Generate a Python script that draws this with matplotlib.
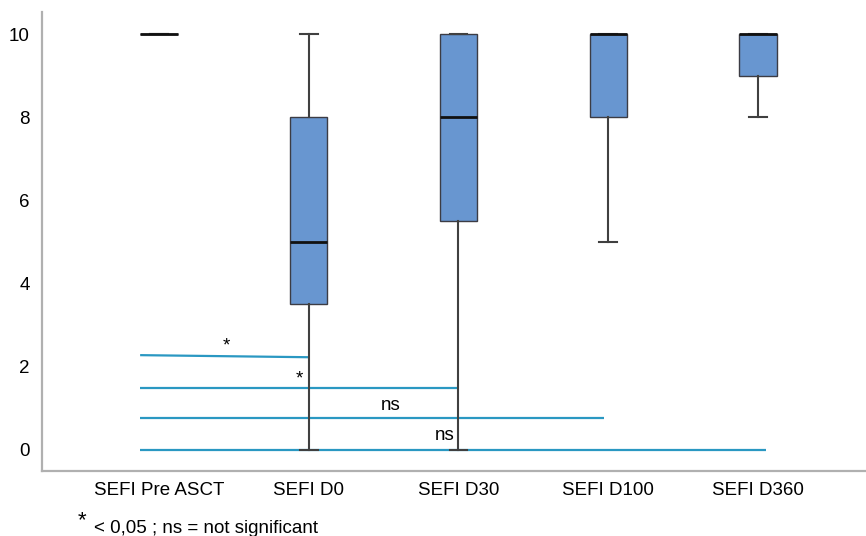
import matplotlib
matplotlib.use("Agg")
import matplotlib.pyplot as plt

plt.rcParams['font.family'] = ['Liberation Sans', 'DejaVu Sans']

# SEFI scores per time point
groups = ['SEFI Pre ASCT', 'SEFI D0', 'SEFI D30', 'SEFI D100', 'SEFI D360']
whislo = [10, 0, 0, 5, 8]
q1 = [10, 3.5, 5.5, 8, 9]
med = [10, 5, 8, 10, 10]
q3 = [10, 8, 10, 10, 10]
whishi = [10, 10, 10, 10, 10]

# comparisons against Pre ASCT: (x start, x end, y start, y end, label, label x, label y)
cmp_x0 = [0.875, 0.875, 0.875, 0.875]
cmp_x1 = [2.0, 3.0, 3.97, 5.05]
cmp_y0 = [2.28, 1.5, 0.77, 0.0]
cmp_y1 = [2.23, 1.5, 0.77, 0.0]
cmp_lab = ['*', '*', 'ns', 'ns']
lab_x = [1.45, 1.94, 2.55, 2.91]
lab_y = [2.5, 1.7, 1.08, 0.36]

stats = []
for i in range(len(groups)):
    stats.append({'label': groups[i], 'whislo': whislo[i], 'q1': q1[i],
                  'med': med[i], 'q3': q3[i], 'whishi': whishi[i], 'fliers': []})

fig = plt.figure(figsize=(8.66, 5.36), dpi=100)
ax = fig.add_axes([0.0485, 0.1213, 0.9515, 0.8563])

ax.bxp(stats, positions=range(1, len(groups) + 1), widths=0.25, patch_artist=True,
       showfliers=False,
       boxprops=dict(facecolor='#6896d0', edgecolor='#3c3c44', linewidth=1.0),
       medianprops=dict(color='#111111', linewidth=2.0),
       whiskerprops=dict(color='#404040', linewidth=1.5),
       capprops=dict(color='#404040', linewidth=1.5),
       capwidths=0.12)

for i in range(len(cmp_lab)):
    ax.plot([cmp_x0[i], cmp_x1[i]], [cmp_y0[i], cmp_y1[i]], color='#2a98c2',
            linewidth=1.6, solid_capstyle='butt', zorder=1)
    ax.text(lab_x[i], lab_y[i], cmp_lab[i], ha='center', va='center', fontsize=13.5)

ax.set_xlim(0.22, 5.72)
ax.set_ylim(-0.505, 10.53)
ax.set_yticks([0, 2, 4, 6, 8, 10])
ax.tick_params(axis='both', length=0, labelsize=13.5, pad=9)
ax.tick_params(axis='x', pad=8)

for side in ['top', 'right']:
    ax.spines[side].set_visible(False)
for side in ['left', 'bottom']:
    ax.spines[side].set_color('#b0b0b0')
    ax.spines[side].set_linewidth(1.6)

fig.text(0.0947, 0.028, '*', fontsize=16, ha='center', va='center')
fig.text(0.108, 0.006, '< 0,05 ; ns = not significant', fontsize=13.5, ha='left', va='baseline')

fig.savefig('out.png', dpi=100)
